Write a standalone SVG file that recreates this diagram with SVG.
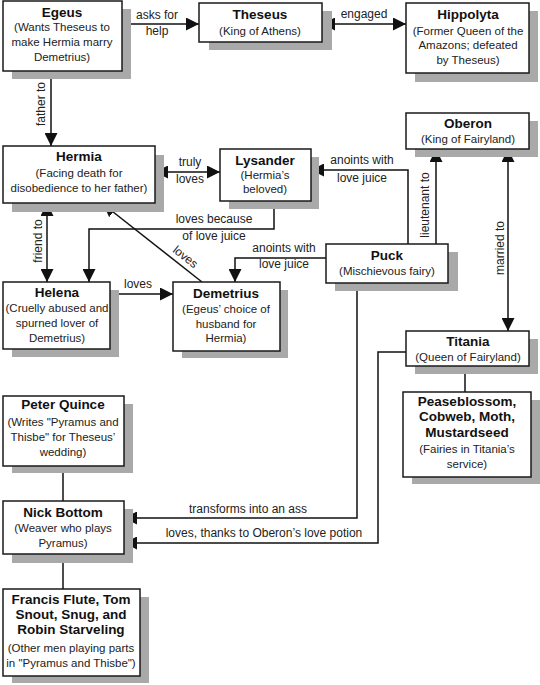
<svg xmlns="http://www.w3.org/2000/svg" width="540" height="685" viewBox="0 0 540 685">
<style>
.box{fill:#fff;stroke:#1a1a1a;stroke-width:1.5}
.sh{fill:#a9a9a9}
.t{font-family:"Liberation Sans",Arial,sans-serif;font-weight:bold;font-size:13.5px;fill:#111;text-anchor:middle}
.s{font-family:"Liberation Sans",Arial,sans-serif;font-size:11.5px;fill:#222;text-anchor:middle}
.c{fill:none;stroke:#111;stroke-width:1.5}
.l{font-family:"Liberation Sans",Arial,sans-serif;font-size:12px;fill:#222;text-anchor:middle}
</style>
<defs>
<marker id="ah" viewBox="0 0 10 10" refX="10" refY="5" markerWidth="13" markerHeight="13" markerUnits="userSpaceOnUse" orient="auto-start-reverse"><path d="M0,0 L10,5 L0,10 z" fill="#111"/></marker>
</defs>
<rect width="540" height="685" fill="#fff"/>
<g id="connectors">
<path class="c" d="M122,24 H199" marker-end="url(#ah)"/>
<path class="c" d="M322,24 H406" marker-start="url(#ah)" marker-end="url(#ah)"/>
<path class="c" d="M51,71 V146" marker-end="url(#ah)"/>
<path class="c" d="M155,172 H220" marker-start="url(#ah)" marker-end="url(#ah)"/>
<path class="c" d="M274,201 V229 H89 V282" marker-end="url(#ah)"/>
<path class="c" d="M47,203 V282" marker-start="url(#ah)" marker-end="url(#ah)"/>
<path class="c" d="M202,282 L103,204" marker-end="url(#ah)"/>
<path class="c" d="M408,244 V170 H311" marker-end="url(#ah)"/>
<path class="c" d="M436,244 V149" marker-end="url(#ah)"/>
<path class="c" d="M508,149 V331" marker-start="url(#ah)" marker-end="url(#ah)"/>
<path class="c" d="M326,258 H235 V282" marker-end="url(#ah)"/>
<path class="c" d="M110,294 H173" marker-end="url(#ah)"/>
<path class="c" d="M357,283 V518 H124" marker-end="url(#ah)"/>
<path class="c" d="M406,352 H378 V543 H124" marker-end="url(#ah)"/>
<path class="c" d="M465,366 V392"/>
<path class="c" d="M63,466 V501"/>
<path class="c" d="M63,554 V589"/>
<text class="l" x="157" y="19">asks for</text>
<text class="l" x="157" y="35">help</text>
<text class="l" x="364" y="18">engaged</text>
<text class="l" transform="translate(45,104) rotate(-90)">father to</text>
<text class="l" x="190" y="166">truly</text>
<text class="l" x="190" y="183">loves</text>
<text class="l" x="214" y="223">loves because</text>
<text class="l" x="214" y="240">of love juice</text>
<text class="l" transform="translate(42,241) rotate(-90)">friend to</text>
<text class="l" transform="translate(183,260) rotate(38)">loves</text>
<text class="l" x="362" y="164">anoints with</text>
<text class="l" x="362" y="182">love juice</text>
<text class="l" transform="translate(429,205) rotate(-90)">lieutenant to</text>
<text class="l" transform="translate(504,248) rotate(-90)">married to</text>
<text class="l" x="284" y="252">anoints with</text>
<text class="l" x="284" y="268">love juice</text>
<text class="l" x="138" y="288">loves</text>
<text class="l" x="248" y="513">transforms into an ass</text>
<text class="l" x="264" y="537">loves, thanks to Oberon’s love potion</text>
</g>
<g id="egeus">
<rect class="sh" x="12" y="9" width="119" height="70"/>
<rect class="box" x="3" y="1" width="119" height="70"/>
<text class="t" x="62" y="17">Egeus</text>
<text class="s" x="62" y="31">(Wants Theseus to</text>
<text class="s" x="62" y="46">make Hermia marry</text>
<text class="s" x="62" y="61">Demetrius)</text>
</g>
<g id="theseus">
<rect class="sh" x="209" y="11" width="123" height="39"/>
<rect class="box" x="199" y="3" width="123" height="39"/>
<text class="t" x="260" y="19">Theseus</text>
<text class="s" x="260" y="35">(King of Athens)</text>
</g>
<g id="hippolyta">
<rect class="sh" x="415" y="11" width="123" height="71"/>
<rect class="box" x="406" y="3" width="123" height="70"/>
<text class="t" x="468" y="19">Hippolyta</text>
<text class="s" x="468" y="35">(Former Queen of the</text>
<text class="s" x="468" y="49">Amazons; defeated</text>
<text class="s" x="468" y="64">by Theseus)</text>
</g>
<g id="hermia">
<rect class="sh" x="12" y="155" width="152" height="57"/>
<rect class="box" x="3" y="146" width="152" height="57"/>
<text class="t" x="79" y="161">Hermia</text>
<text class="s" x="79" y="177">(Facing death for</text>
<text class="s" x="79" y="192">disobedience to her father)</text>
</g>
<g id="lysander">
<rect class="sh" x="229" y="157" width="90" height="52"/>
<rect class="box" x="220" y="149" width="91" height="52"/>
<text class="t" x="265" y="165">Lysander</text>
<text class="s" x="265" y="179">(Hermia’s</text>
<text class="s" x="265" y="193">beloved)</text>
</g>
<g id="oberon">
<rect class="sh" x="415" y="121" width="123" height="36"/>
<rect class="box" x="406" y="113" width="123" height="36"/>
<text class="t" x="468" y="128">Oberon</text>
<text class="s" x="468" y="143">(King of Fairyland)</text>
</g>
<g id="puck">
<rect class="sh" x="335" y="252" width="123" height="39"/>
<rect class="box" x="326" y="244" width="122" height="39"/>
<text class="t" x="387" y="260">Puck</text>
<text class="s" x="387" y="275">(Mischievous fairy)</text>
</g>
<g id="helena">
<rect class="sh" x="12" y="290" width="107" height="67"/>
<rect class="box" x="3" y="282" width="107" height="67"/>
<text class="t" x="57" y="297">Helena</text>
<text class="s" x="57" y="312">(Cruelly abused and</text>
<text class="s" x="57" y="327">spurned lover of</text>
<text class="s" x="57" y="342">Demetrius)</text>
</g>
<g id="demetrius">
<rect class="sh" x="182" y="290" width="106" height="68"/>
<rect class="box" x="173" y="282" width="107" height="69"/>
<text class="t" x="226" y="298">Demetrius</text>
<text class="s" x="226" y="313">(Egeus’ choice of</text>
<text class="s" x="226" y="328">husband for</text>
<text class="s" x="226" y="342">Hermia)</text>
</g>
<g id="titania">
<rect class="sh" x="415" y="339" width="123" height="35"/>
<rect class="box" x="406" y="331" width="123" height="35"/>
<text class="t" x="468" y="346">Titania</text>
<text class="s" x="468" y="361">(Queen of Fairyland)</text>
</g>
<g id="fairies">
<rect class="sh" x="412" y="400" width="128" height="84"/>
<rect class="box" x="403" y="392" width="128" height="85"/>
<text class="t" x="467" y="406">Peaseblossom,</text>
<text class="t" x="467" y="421">Cobweb, Moth,</text>
<text class="t" x="467" y="437">Mustardseed</text>
<text class="s" x="467" y="453">(Fairies in Titania’s</text>
<text class="s" x="467" y="468">service)</text>
</g>
<g id="quince">
<rect class="sh" x="12" y="404" width="121" height="69"/>
<rect class="box" x="3" y="396" width="121" height="70"/>
<text class="t" x="63" y="409">Peter Quince</text>
<text class="s" x="63" y="426">(Writes "Pyramus and</text>
<text class="s" x="63" y="441">Thisbe" for Theseus’</text>
<text class="s" x="63" y="456">wedding)</text>
</g>
<g id="bottom">
<rect class="sh" x="12" y="509" width="121" height="54"/>
<rect class="box" x="3" y="501" width="121" height="53"/>
<text class="t" x="63" y="517">Nick Bottom</text>
<text class="s" x="63" y="532">(Weaver who plays</text>
<text class="s" x="63" y="547">Pyramus)</text>
</g>
<g id="mechanicals">
<rect class="sh" x="12" y="597" width="137" height="86"/>
<rect class="box" x="3" y="589" width="137" height="87"/>
<text class="t" x="71" y="604">Francis Flute, Tom</text>
<text class="t" x="71" y="619">Snout, Snug, and</text>
<text class="t" x="71" y="634">Robin Starveling</text>
<text class="s" x="71" y="652">(Other men playing parts</text>
<text class="s" x="71" y="667">in "Pyramus and Thisbe")</text>
</g>
</svg>
